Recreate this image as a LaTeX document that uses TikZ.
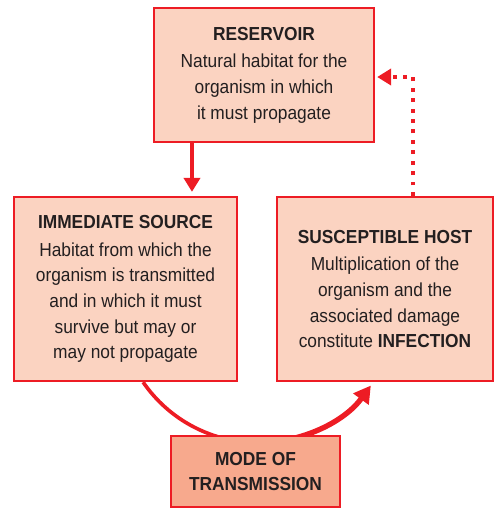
\documentclass[tikz,border=0pt]{standalone}
\usepackage{fontspec}
\setmainfont{Liberation Sans}[FakeStretch=0.92]
\usetikzlibrary{arrows.meta,backgrounds}
\definecolor{chainred}{RGB}{237,28,36}
\definecolor{chainfill}{RGB}{251,211,193}
\definecolor{modefill}{RGB}{247,169,141}
\definecolor{chaintext}{RGB}{35,31,32}
\tikzset{
	stage/.style={draw=chainred, line width=1.6pt, fill=chainfill, align=center, text=chaintext, inner sep=0pt, font=\fontsize{13.4}{18.2}\selectfont},
	flow/.style={draw=chainred, line width=2.8pt, -{Triangle[length=10pt,width=11.5pt]}},
}

\begin{document}
\begin{tikzpicture}[x=0.025cm, y=-0.025cm]
			%%%%% START %%%%%
			\useasboundingbox (0, 0) rectangle (494, 508);
			
			\node[stage, minimum width=5.5cm, minimum height=3.35cm] (reservoir) at (264, 75) {\textbf{RESERVOIR}\\[1.5pt]Natural habitat for the\\organism in which\\it must propagate};
			\node[stage, minimum width=5.575cm, minimum height=4.6cm] (source) at (125.5, 289) {\textbf{IMMEDIATE SOURCE}\\[1.5pt]Habitat from which the\\organism is transmitted\\and in which it must\\survive but may or\\may not propagate};
			\node[stage, minimum width=5.4cm, minimum height=4.6cm] (host) at (385, 289) {\textbf{SUSCEPTIBLE HOST}\\[1.5pt]Multiplication of the\\organism and the\\associated damage\\constitute \textbf{INFECTION}};
			\node[stage, fill=modefill, minimum width=4.225cm, minimum height=1.775cm] (mode) at (255.5, 471.5) {\textbf{MODE OF}\\\textbf{TRANSMISSION}};
			
			\draw[flow] ([xshift=-1.8cm]reservoir.south) -- ([xshift=-1.8cm, yshift=0.1cm]reservoir.south |- source.north);
			\draw[flow, dash pattern=on 2.8pt off 4.6pt] ([xshift=0.7cm]host.north) |- ([xshift=0.05cm, yshift=-0.05cm]reservoir.east);
			
			% the arc gets thicker towards the host
			\begin{pgfonlayer}{background}
				\draw[chainred, line width=2.6pt] ([xshift=0.44cm]source.south) arc[start angle=214.5, end angle=270, radius=3.49cm] coordinate (arcbottom);
				\draw[flow, line width=3.8pt, -{Triangle[length=12pt,width=13pt]}] (arcbottom) arc[start angle=270, end angle=323.8, radius=3.49cm];
			\end{pgfonlayer}
			%%%%% END %%%%%
\end{tikzpicture}
\end{document}
